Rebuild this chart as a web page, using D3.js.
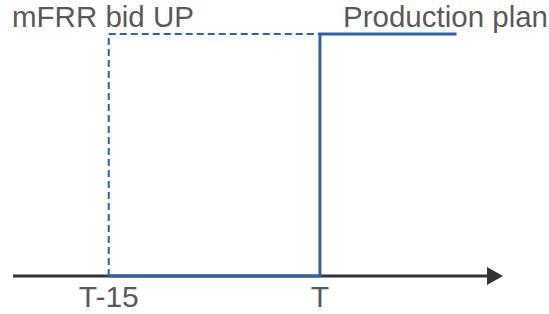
<!DOCTYPE html>
<html><head><meta charset="utf-8">
<script src="https://cdn.jsdelivr.net/npm/d3@7"></script>
<style>body{margin:0;background:#fff}svg{display:block}</style>
</head><body>
<svg id="c" width="549" height="314"></svg>
<script>
// Data (time in minutes relative to T; level 0/1)
const tickValues = [-15, 0];
const tickLabels = ["T-15", "T"];
const bidTimes = [-15, -15, 0];
const bidLevels = [0, 1, 1];
const planTimes = [-15, 0, 0, 9.7];
const planLevels = [0, 0, 1, 1];
const seriesNames = ["mFRR bid UP", "Production plan"];
const timeDomain = [-21.8, 13];

const svg = d3.select("#c");
const x = d3.scaleLinear().domain(timeDomain).range([13, 503]);
const y = d3.scaleLinear().domain([0, 1]).range([276, 34]);
const blue = "#2C62A8", axisCol = "#333333", textCol = "#595959";
const font = "Liberation Sans, Arial, sans-serif";

// axis line with arrow
svg.append("defs").append("marker").attr("id","arr")
  .attr("viewBox","0 0 16 18").attr("refX",0).attr("refY",9)
  .attr("markerWidth",16).attr("markerHeight",18).attr("markerUnits","userSpaceOnUse")
  .attr("orient","auto")
  .append("path").attr("d","M0,0L16,9L0,18Z").attr("fill",axisCol);
svg.append("line").attr("x1", x(timeDomain[0])).attr("x2", x(timeDomain[1]) - 16)
  .attr("y1", y(0)).attr("y2", y(0)).attr("stroke", axisCol).attr("stroke-width", 3)
  .attr("marker-end","url(#arr)");

const line = d3.line().x(d => x(d[0])).y(d => y(d[1]));

// mFRR bid (dashed)
svg.append("path").datum(bidTimes.map((t,i)=>[t,bidLevels[i]]))
  .attr("d", line).attr("fill","none").attr("stroke", blue)
  .attr("stroke-width", 2).attr("stroke-dasharray","7,4");

// production plan (solid)
svg.append("path").datum(planTimes.map((t,i)=>[t,planLevels[i]]))
  .attr("d", line).attr("fill","none").attr("stroke", blue)
  .attr("stroke-width", 3);

// tick labels
svg.selectAll("text.tick").data(tickValues).enter().append("text")
  .attr("class","tick")
  .attr("x", d => x(d)).attr("y", 307).attr("text-anchor","middle")
  .attr("font-family", font).attr("font-size", 30)
  .attr("fill", textCol).text((d,i)=>tickLabels[i]);

// series labels
svg.append("text").attr("x", 12).attr("y", 27)
  .attr("font-family", font).attr("font-size", 29.5)
  .attr("fill", textCol).text(seriesNames[0]);
svg.append("text").attr("x", 343).attr("y", 27)
  .attr("font-family", font).attr("font-size", 29.5)
  .attr("fill", textCol).text(seriesNames[1]);
</script>
</body></html>
